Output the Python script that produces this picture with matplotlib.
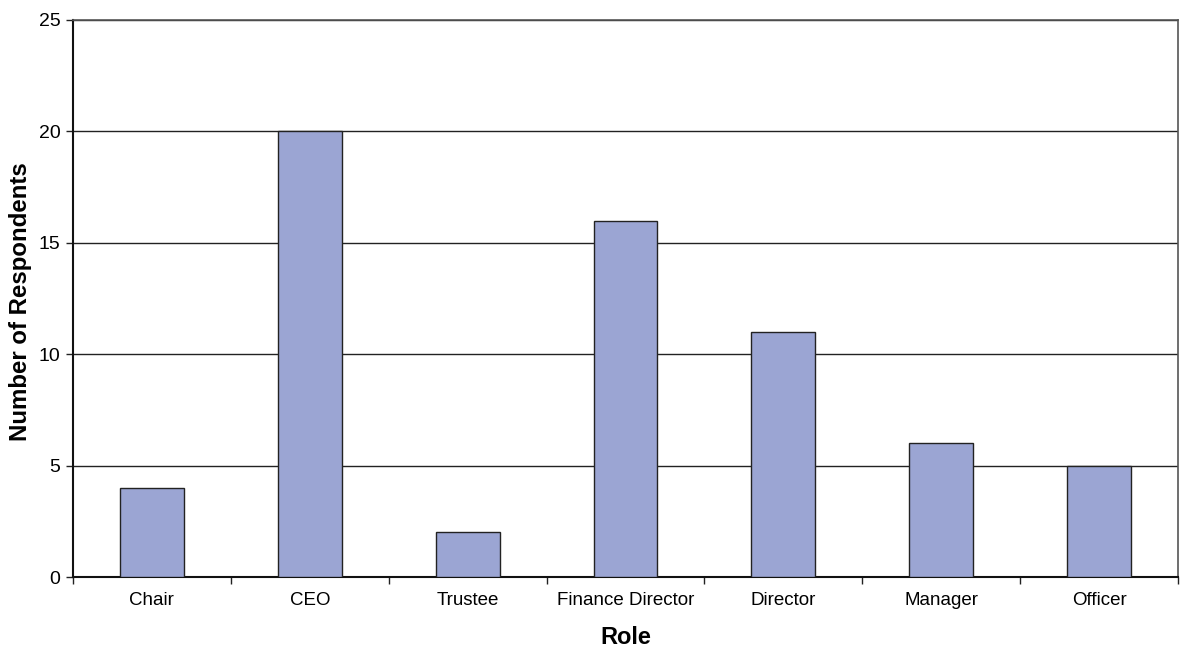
import matplotlib
matplotlib.use("Agg")
import matplotlib.pyplot as plt
import numpy as np

# respondents by role
roles = ["Chair", "CEO", "Trustee", "Finance Director", "Director", "Manager", "Officer"]
counts = [4, 20, 2, 16, 11, 6, 5]

plt.rcParams['font.family'] = ['Liberation Sans', 'DejaVu Sans']

fig = plt.figure(figsize=(11.81, 6.5), dpi=100)
ax = fig.add_axes([73 / 1181, 73 / 650, 1105 / 1181, 557 / 650])

x = np.arange(len(roles))
ax.bar(x, counts, width=0.405, color="#9ba5d3", edgecolor="#222222", linewidth=1.0, zorder=3)

ax.set_xlim(-0.5, len(roles) - 0.5)
ax.set_ylim(0, 25)
ax.set_yticks([0, 5, 10, 15, 20, 25])
ax.yaxis.grid(True, color="#222222", linewidth=1.0, zorder=0)
ax.set_axisbelow(True)

# category labels centred, ticks on the boundaries
ax.set_xticks(x)
ax.set_xticklabels(roles, fontsize=13.5)
ax.tick_params(axis="x", length=0, pad=11)
ax.set_xticks(np.arange(-0.5, len(roles)), minor=True)
ax.tick_params(axis="x", which="minor", length=5, width=1, color="#222222")
ax.tick_params(axis="y", labelsize=14, length=5, width=1, color="#222222", pad=4)

for side in ["left", "bottom"]:
    ax.spines[side].set_color("#111111")
    ax.spines[side].set_linewidth(1.5)
for side in ["top", "right"]:
    ax.spines[side].set_color("#555555")
    ax.spines[side].set_linewidth(1.2)

ax.set_xlabel("Role", fontsize=17, fontweight="bold", labelpad=12)
ax.set_ylabel("Number of Respondents", fontsize=17.3, fontweight="bold")
ax.yaxis.set_label_coords(-0.037, 0.495)

fig.savefig("out.png", dpi=100)
